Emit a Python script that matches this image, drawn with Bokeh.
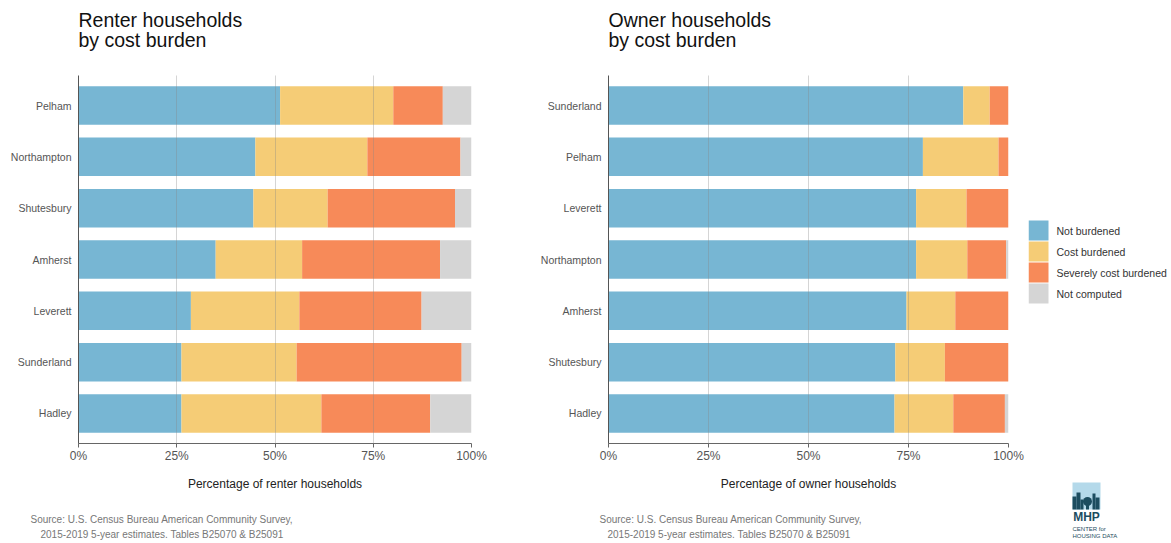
from bokeh.plotting import figure
from bokeh.models import ColumnDataSource, Range1d, FixedTicker, Title
from bokeh.layouts import row
from bokeh.embed import file_html
from bokeh.resources import INLINE
from bokeh.core.properties import value

# ---- data ----
renter_towns = ["Pelham", "Northampton", "Shutesbury", "Amherst", "Leverett", "Sunderland", "Hadley"]
renter_not_burdened = [51.3, 45.0, 44.5, 34.9, 28.6, 26.2, 26.2]
renter_cost_burdened = [28.8, 28.5, 18.9, 22.0, 27.6, 29.3, 35.6]
renter_severe = [12.6, 23.7, 32.4, 35.1, 31.1, 42.0, 27.7]
renter_not_computed = [7.3, 2.8, 4.2, 8.0, 12.7, 2.5, 10.5]

owner_towns = ["Sunderland", "Pelham", "Leverett", "Northampton", "Amherst", "Shutesbury", "Hadley"]
owner_not_burdened = [88.7, 78.6, 76.9, 76.9, 74.5, 71.7, 71.5]
owner_cost_burdened = [6.6, 18.9, 12.6, 12.8, 12.2, 12.4, 14.7]
owner_severe = [4.7, 2.5, 10.5, 9.7, 13.3, 15.9, 12.9]
owner_not_computed = [0.0, 0.0, 0.0, 0.6, 0.0, 0.0, 0.9]

segments = ["Not burdened", "Cost burdened", "Severely cost burdened", "Not computed"]
tick_values = [0, 25, 50, 75, 100]
tick_labels = ["0%", "25%", "50%", "75%", "100%"]

source_line1 = "Source: U.S. Census Bureau American Community Survey,"
source_line2 = "2015-2019 5-year estimates. Tables B25070 & B25091"

# ---- style ----
COLORS = ["#77b6d3", "#f5cc76", "#f78a59", "#d5d5d5"]
FONT = "Liberation Sans"
KEYS = ["nb", "cb", "sb", "nc"]
H = 543


def spacer(standoff):
    return Title(text=" ", text_font_size="1px", standoff=standoff)


def make_panel(t1, t2, towns, cols, xlabel, width, left, right, src_off1, src_off2):
    n = len(towns)
    ypos = [n - 1 - i for i in range(n)]
    data = dict(y=ypos, town=towns)
    for k, v in zip(KEYS, cols):
        data[k] = v
    src = ColumnDataSource(data)
    p = figure(width=width, height=H, x_range=Range1d(0, 100),
               y_range=Range1d(-0.585, n - 1 + 0.585),
               output_backend="svg", toolbar_location=None,
               min_border_left=left, min_border_right=right,
               min_border_top=75, min_border_bottom=100,
               outline_line_color=None, background_fill_color="white",
               border_fill_color="white")
    rs = p.hbar_stack(KEYS, y="y", height=0.75, fill_color=COLORS,
                      line_color=None, source=src)

    # axes
    p.xaxis.ticker = FixedTicker(ticks=tick_values)
    p.xaxis.major_label_overrides = {v: l for v, l in zip(tick_values, tick_labels)}
    p.xaxis.major_label_text_font = FONT
    p.xaxis.major_label_text_font_size = "12px"
    p.xaxis.major_label_text_color = "#555555"
    p.xaxis.major_tick_out = 4
    p.xaxis.major_tick_in = 0
    p.xaxis.major_tick_line_color = "#666666"
    p.xaxis.minor_tick_line_color = None
    p.xaxis.axis_line_color = "#666666"
    p.xaxis.major_label_standoff = 1
    p.xaxis.axis_label = xlabel
    p.xaxis.axis_label_text_font = FONT
    p.xaxis.axis_label_text_font_size = "12px"
    p.xaxis.axis_label_text_font_style = "normal"
    p.xaxis.axis_label_text_color = "#222222"
    p.xaxis.axis_label_standoff = 11

    p.yaxis.ticker = FixedTicker(ticks=ypos)
    p.yaxis.major_label_overrides = {y: t for y, t in zip(ypos, towns)}
    p.yaxis.major_label_text_font = FONT
    p.yaxis.major_label_text_font_size = "10.5px"
    p.yaxis.major_label_text_color = "#555555"
    p.yaxis.major_tick_line_color = None
    p.yaxis.minor_tick_line_color = None
    p.yaxis.major_tick_out = 0
    p.yaxis.major_label_standoff = 7
    p.yaxis.axis_line_color = "#555555"

    p.ygrid.grid_line_color = None
    p.xgrid.ticker = FixedTicker(ticks=tick_values)
    p.xgrid.grid_line_color = "#888888"
    p.xgrid.grid_line_alpha = 0.35
    p.xgrid.level = "overlay"

    # titles: outermost p.title is a spacer; above list goes outward from the frame
    p.title.text = " "
    p.title.text_font_size = "1px"
    p.title.standoff = 5
    tstyle = dict(text_font=FONT, text_font_size="19.5px", text_font_style="normal",
                  text_color="#111111", align="left", standoff=-4)
    p.add_layout(spacer(24), "above")
    p.add_layout(Title(text=t2, **tstyle), "above")
    p.add_layout(Title(text=t1, **tstyle), "above")

    # source notes (below list goes outward from the axis)
    sstyle = dict(text_font=FONT, text_font_size="10px", text_font_style="normal",
                  text_color="#777777", align="left")
    p.add_layout(spacer(15), "below")
    p.add_layout(Title(text=source_line1, offset=src_off1, standoff=0, **sstyle), "below")
    p.add_layout(Title(text=source_line2, offset=src_off2, standoff=4, **sstyle), "below")
    return p, rs


p1, rs1 = make_panel("Renter households", "by cost burden", renter_towns,
                     [renter_not_burdened, renter_cost_burdened, renter_severe, renter_not_computed],
                     "Percentage of renter households", 533, 78, 62, -48, -38)
p2, rs2 = make_panel("Owner households", "by cost burden", owner_towns,
                     [owner_not_burdened, owner_cost_burdened, owner_severe, owner_not_computed],
                     "Percentage of owner households", 495, 75, 20, -9, -1)

# ---- side panel: legend + logo (frame covers the whole canvas, y in pixels from top) ----
W3 = 143
p3 = figure(width=W3, height=H, x_range=Range1d(0, W3), y_range=Range1d(H, 0),
            output_backend="svg", toolbar_location=None,
            min_border_left=0, min_border_right=0, min_border_top=0, min_border_bottom=0,
            outline_line_color=None, background_fill_color="white", border_fill_color="white")
if "frame_align" in p3.properties():
    p3.frame_align = False
p3.axis.visible = False
p3.grid.visible = False

LEG_TOP, LEG_STEP, LEG_BOX = 220, 21, 20
leg_top = [LEG_TOP + i * LEG_STEP for i in range(len(segments))]
leg_src = ColumnDataSource(dict(
    left=[0] * len(segments), right=[LEG_BOX] * len(segments),
    top=leg_top, bottom=[t + LEG_BOX for t in leg_top],
    ty=[t + LEG_BOX / 2 for t in leg_top], tx=[LEG_BOX + 8] * len(segments),
    color=COLORS, label=segments))
p3.quad(left="left", right="right", top="top", bottom="bottom", fill_color="color",
        line_color=None, source=leg_src)
p3.text(x="tx", y="ty", text="label", source=leg_src, text_font=value(FONT),
        text_font_size="10.5px", text_color="#333333", text_baseline="middle")

# logo (MHP Center for Housing Data)
TEAL = "#1c4d60"
p3.quad(left=[44], right=[72], top=[482], bottom=[509], fill_color="#b4d9ea", line_color=None)
p3.quad(left=[44, 48, 52, 64, 67], right=[48, 52, 55, 67, 71],
        top=[496, 492, 499, 493, 497], bottom=[509, 509, 509, 509, 509],
        fill_color=TEAL, line_color=None)
p3.circle(x=[59], y=[501], radius=4.5, fill_color=TEAL, line_color=None)
p3.quad(left=[57.5], right=[60.5], top=[503], bottom=[509], fill_color=TEAL, line_color=None)
p3.text(x=[58], y=[516], text=["MHP"], text_font=value(FONT), text_font_size="12px",
        text_font_style="bold", text_color=TEAL, text_align="center", text_baseline="middle")
p3.text(x=[44, 44], y=[528, 535], text=["CENTER for", "HOUSING DATA"], text_font=value(FONT),
        text_font_size="6px", text_color=TEAL, text_align="left", text_baseline="middle")

layout = row(p1, p2, p3)
open("out.html", "w").write(file_html(layout, INLINE))
